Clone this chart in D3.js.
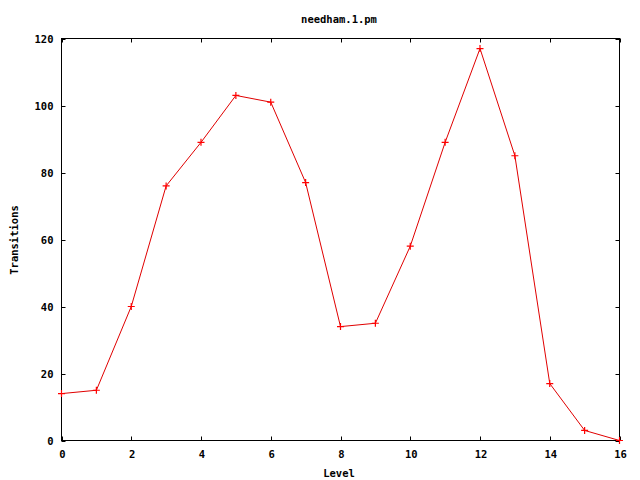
<!DOCTYPE html>
<html><head><meta charset="utf-8">
<script src="https://cdn.jsdelivr.net/npm/d3@7"></script>
<style>body{margin:0;background:#fff}text{font-family:"DejaVu Sans Mono",monospace;font-weight:bold;font-size:10.5px;fill:#000}</style>
</head><body>
<svg id="c" width="640" height="480"></svg>
<script>
const levels = [0,1,2,3,4,5,6,7,8,9,10,11,12,13,14,15,16];
const transitions = [14,15,40,76,89,103,101,77,34,35,58,89,117,85,17,3,0];
const xTicks = [0,2,4,6,8,10,12,14,16];
const yTicks = [0,20,40,60,80,100,120];
const title = "needham.1.pm";
const xLabel = "Level";
const yLabel = "Transitions";

const svg = d3.select("#c");
const L=61.5, R=619.5, T=38.5, B=440.5;
const x = d3.scaleLinear().domain([0,16]).range([L,R]);
const y = d3.scaleLinear().domain([0,120]).range([B,T]);

svg.append("rect").attr("x",L).attr("y",T).attr("width",R-L).attr("height",B-T)
  .attr("fill","none").attr("stroke","#000").attr("stroke-width",1);

const tl=4;
const g = svg.append("g").attr("stroke","#000").attr("stroke-width",1);
xTicks.forEach(v=>{
  const px=Math.round(x(v))+0.5;
  g.append("line").attr("x1",px).attr("x2",px).attr("y1",B).attr("y2",B-tl);
  g.append("line").attr("x1",px).attr("x2",px).attr("y1",T).attr("y2",T+tl);
  svg.append("text").attr("x",x(v)+1).attr("y",B+17).attr("text-anchor","middle").text(v);
});
yTicks.forEach(v=>{
  const py=Math.round(y(v))+0.5;
  g.append("line").attr("x1",L).attr("x2",L+tl).attr("y1",py).attr("y2",py);
  g.append("line").attr("x1",R).attr("x2",R-tl).attr("y1",py).attr("y2",py);
  svg.append("text").attr("x",L-8).attr("y",y(v)+4).attr("text-anchor","end").text(v);
});

svg.append("text").attr("x",339).attr("y",23).attr("text-anchor","middle").text(title);
svg.append("text").attr("x",339).attr("y",477).attr("text-anchor","middle").text(xLabel);
svg.append("text").attr("transform","translate(18,240) rotate(-90)").attr("text-anchor","middle").text(yLabel);

const data = levels.map((l,i)=>[l,transitions[i]]);
svg.append("path").datum(data)
  .attr("d",d3.line().x(d=>x(d[0])).y(d=>y(d[1])))
  .attr("fill","none").attr("stroke","#e00000").attr("stroke-width",1);
const s=3.5;
svg.append("g").selectAll("path.p").data(data).enter().append("path")
  .attr("d",d=>{const px=x(d[0]),py=y(d[1]);return `M${px-s},${py}H${px+s}M${px},${py-s}V${py+s}`;})
  .attr("stroke","#ff0000").attr("stroke-width",1.2).attr("fill","none");
</script>
</body></html>
